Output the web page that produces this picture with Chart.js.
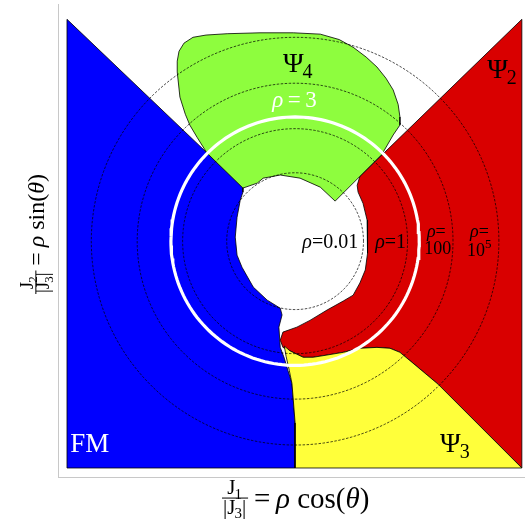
<!DOCTYPE html>
<html>
<head>
<meta charset="utf-8">
<script src="https://cdn.jsdelivr.net/npm/chart.js@4"></script>
<style>
  body { margin: 0; background: #fff; }
</style>
</head>
<body>
<canvas id="phaseDiagram" width="525" height="525"></canvas>
<script>
// Phase boundaries, in J1/|J3| and J2/|J3| units (radial axis is compressed)
const regionFM = [[-5.07,4.93],[-1.16,1.20],[-1.16,1.09],[-1.22,0.91],[-1.29,0.53],[-1.33,0.09],
  [-1.29,-0.31],[-1.18,-0.58],[-0.93,-1.02],[-0.62,-1.31],[-0.33,-1.49],[-0.29,-1.64],[-0.36,-1.91],
  [-0.33,-2.36],[-0.24,-2.60],[-0.16,-2.87],[-0.07,-3.16],[-0.04,-3.53],[0,-4.04],[0,-5.04],
  [-5.07,-5.04],[-5.07,4.93]];
const regionPsi2 = [[5.04,4.93],[1.44,1.44],[1.38,1.24],[1.40,1.09],[1.51,0.84],[1.60,0.47],
  [1.62,0.09],[1.60,-0.27],[1.56,-0.64],[1.44,-0.93],[1.29,-1.20],[1.07,-1.33],[0.71,-1.53],
  [0.33,-1.76],[0.04,-1.91],[-0.27,-2.02],[-0.33,-2.20],[-0.27,-2.36],[0.27,-2.62],[0.18,-2.58],
  [0.40,-2.58],[0.71,-2.53],[1.07,-2.47],[1.44,-2.38],[1.82,-2.36],[2.11,-2.38],[2.33,-2.47],
  [2.62,-2.71],[3.18,-3.18],[5.04,-5.04],[5.04,4.93]];
const regionPsi3 = [[0,-5.04],[5.04,-5.04],[3.18,-3.18],[2.62,-2.71],[2.33,-2.47],[2.11,-2.38],
  [1.82,-2.36],[1.44,-2.38],[1.07,-2.47],[0.71,-2.53],[0.40,-2.58],[0.18,-2.58],[-0.11,-2.44],
  [-0.24,-2.33],[-0.20,-2.56],[-0.13,-2.87],[-0.07,-3.16],[-0.04,-3.53],[0,-4.04],[0,-5.04]];
const regionPsi4 = [[-2.62,3.76],[-2.62,4.00],[-2.58,4.22],[-2.47,4.40],[-2.27,4.53],[-1.98,4.58],
  [-1.51,4.61],[-0.78,4.63],[-0.04,4.63],[0.56,4.60],[0.98,4.48],[1.29,4.31],[1.58,4.09],
  [1.82,3.87],[2.02,3.62],[2.18,3.36],[2.29,3.04],[2.33,2.76],[2.33,2.58],[2.18,2.36],[1.93,1.93],
  [0.89,0.89],[0.56,1.20],[0.11,1.40],[-0.33,1.47],[-0.71,1.40],[-0.84,1.29],[-1.16,1.18],
  [-1.96,1.96],[-2.18,2.31],[-2.34,2.58],[-2.44,2.82],[-2.56,3.20],[-2.62,3.76]];

// constant-rho circles
const rhoValues = ['0.01', '1', '100', '10'];
const rhoRadii = [1.52, 2.50, 3.51, 4.53];
const rhoHighlight = '3';
const rhoHighlightRadius = 2.76;

const font = 'Liberation Serif, Times New Roman, serif';

function toPoints(arr) {
  return arr.map(p => ({ x: p[0], y: p[1] }));
}

function circlePoints(r) {
  let pts = [];
  for (let i = 0; i <= 180; i++) {
    let a = i / 180 * 2 * Math.PI;
    pts.push({ x: r * Math.cos(a), y: r * Math.sin(a) });
  }
  return pts;
}

function region(data, color, order) {
  return {
    data: toPoints(data),
    showLine: true,
    fill: 'shape',
    backgroundColor: color,
    borderColor: '#000',
    borderWidth: 0.8,
    pointRadius: 0,
    tension: 0,
    order: order
  };
}

let datasets = [
  region(regionFM, '#0000ff', 10),
  region(regionPsi2, '#d90000', 9),
  region(regionPsi3, '#ffff3a', 8),
  region(regionPsi4, '#8efd3e', 7)
];
for (let i = 0; i < rhoRadii.length; i++) {
  datasets.push({
    data: circlePoints(rhoRadii[i]),
    showLine: true,
    fill: false,
    borderColor: '#000',
    borderWidth: 0.7,
    borderDash: [2.5, 1.5],
    pointRadius: 0,
    order: 5
  });
}
datasets.push({
  data: circlePoints(rhoHighlightRadius),
  showLine: true,
  fill: false,
  borderColor: '#fff',
  borderWidth: 3.2,
  pointRadius: 0,
  order: 4
});

// draws a list of runs: {t, it, sub, sup}; returns width
function drawRuns(ctx, runs, x, y, size) {
  let cx = x;
  runs.forEach(r => {
    let s = size, dy = 0;
    if (r.sub) { s = Math.round(size * 0.7); dy = size * 0.22; cx -= 1; }
    if (r.sup) { s = Math.round(size * 0.7); dy = -size * 0.42; }
    ctx.font = (r.it ? 'italic ' : '') + s + 'px ' + font;
    ctx.fillText(r.t, cx, y + dy);
    cx += ctx.measureText(r.t).width;
  });
  return cx - x;
}

const rho = { t: 'ρ', it: true };
const eq = { t: '\u2009=\u2009' };
const eqTight = { t: '=' };

// text placed in data units
const textLabels = [
  { x: -0.27, y: 3.76, size: 28, color: '#000', runs: [{ t: 'Ψ' }, { t: '4', sub: true }] },
  { x: 4.27, y: 3.62, size: 28, color: '#000', runs: [{ t: 'Ψ' }, { t: '2', sub: true }] },
  { x: 3.22, y: -4.69, size: 28, color: '#000', runs: [{ t: 'Ψ' }, { t: '3', sub: true }] },
  { x: -5.0, y: -4.69, size: 27, color: '#fff', runs: [{ t: 'FM' }] },
  { x: -0.51, y: 2.98, size: 23, color: '#fff', runs: [rho, eq, { t: rhoHighlight }] },
  { x: 0.16, y: -0.16, size: 20, color: '#000', runs: [rho, eqTight, { t: rhoValues[0] }] },
  { x: 1.78, y: -0.16, size: 20, color: '#000', runs: [rho, eqTight, { t: rhoValues[1] }] },
  { x: 2.93, y: 0.09, size: 18, color: '#000', runs: [rho, eqTight] },
  { x: 2.87, y: -0.29, size: 18, color: '#000', runs: [{ t: rhoValues[2] }] },
  { x: 3.89, y: 0.09, size: 18, color: '#000', runs: [rho, eqTight] },
  { x: 3.82, y: -0.33, size: 18, color: '#000', runs: [{ t: rhoValues[3] }, { t: '5', sup: true }] }
];

const labelPlugin = {
  id: 'labels',
  afterDatasetsDraw(chart) {
    const ctx = chart.ctx;
    const xs = chart.scales.x, ys = chart.scales.y;
    ctx.save();
    ctx.textBaseline = 'alphabetic';
    ctx.textAlign = 'left';
    textLabels.forEach(l => {
      ctx.fillStyle = l.color;
      drawRuns(ctx, l.runs, xs.getPixelForValue(l.x), ys.getPixelForValue(l.y), l.size);
    });
    ctx.restore();
  }
};

// fraction J_n / |J_3| followed by "=rho f(theta)"
function drawAxisTitle(ctx, n, fn, fracSize, size, x0, base) {
  ctx.font = fracSize + 'px ' + font;
  let wJ = ctx.measureText('J').width;
  let wBar = ctx.measureText('|').width;
  ctx.font = Math.round(fracSize * 0.7) + 'px ' + font;
  let wSub = ctx.measureText(n).width;
  let wDen = wBar * 2 + wJ + wSub;
  let nx = x0 + 1 + (wDen - wJ - wSub) / 2;
  drawRuns(ctx, [{ t: 'J' }, { t: n, sub: true }], nx, base - size * 0.47, fracSize);
  ctx.fillRect(x0, base - size * 0.36, wDen + 2, 1);
  drawRuns(ctx, [{ t: '|J' }, { t: '3', sub: true }, { t: '|' }], x0 + 1, base + size * 0.2, fracSize);
  drawRuns(ctx, [{ t: '\u2009=\u2009' }, rho, { t: ' ' + fn + '(' }, { t: 'θ', it: true }, { t: ')' }],
    x0 + wDen + 2, base, size);
}

const axisTitlePlugin = {
  id: 'axisTitles',
  afterDraw(chart) {
    const ctx = chart.ctx;
    ctx.save();
    ctx.fillStyle = '#000';
    ctx.textBaseline = 'alphabetic';
    drawAxisTitle(ctx, '1', 'cos', 21, 29, 222, 508);
    ctx.translate(0, 294);
    ctx.rotate(-Math.PI / 2);
    drawAxisTitle(ctx, '2', 'sin', 19, 24, 0, 44);
    ctx.restore();
  }
};

const noTicks = {
  type: 'linear',
  ticks: { display: false },
  grid: { display: false, drawTicks: false },
  border: { display: true, color: '#c8c8c8', width: 1 }
};

new Chart(document.getElementById('phaseDiagram').getContext('2d'), {
  type: 'scatter',
  data: { datasets: datasets },
  options: {
    responsive: false,
    animation: false,
    layout: { padding: { left: 58, top: 4, right: 0, bottom: 48 } },
    plugins: { legend: { display: false }, tooltip: { enabled: false } },
    scales: {
      x: Object.assign({}, noTicks, { min: -5.27, max: 5.11 }),
      y: Object.assign({}, noTicks, { min: -5.24, max: 5.27 })
    }
  },
  plugins: [labelPlugin, axisTitlePlugin]
});
</script>
</body>
</html>
